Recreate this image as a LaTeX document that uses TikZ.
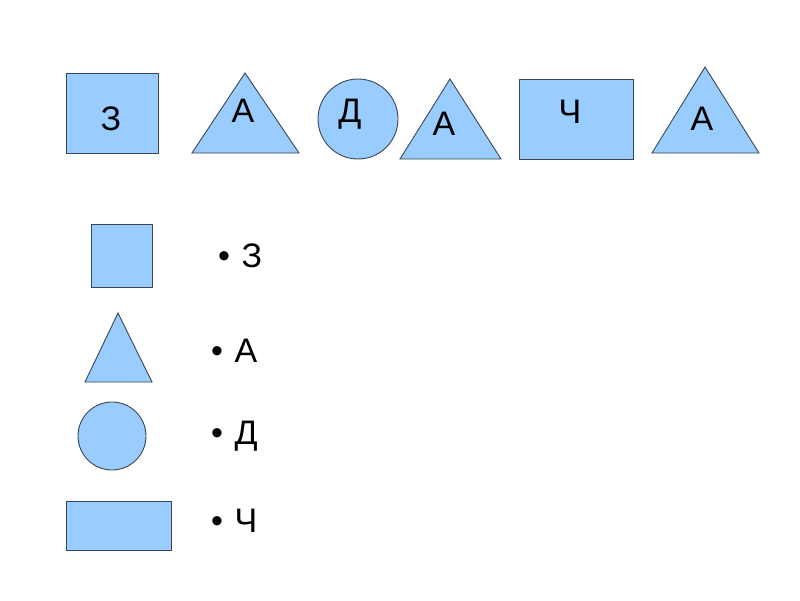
\documentclass[tikz,border=0pt]{standalone}
\usepackage{fontspec}
\setmainfont{Liberation Sans}
\definecolor{figblue}{HTML}{99CCFF}
\definecolor{figedge}{HTML}{3A4654}

\begin{document}
\begin{tikzpicture}[x=1pt,y=-1pt,
  blueshape/.style={fill=figblue,draw=figedge,line width=0.9pt},
  letter/.style={font=\fontsize{34}{36}\selectfont,inner sep=0pt,anchor=base},
  keyitem/.style={letter,anchor=base west}]
\useasboundingbox (0,0) rectangle (800,600);
% top row: the word
\draw[blueshape] (66,73) rectangle (158,153);
\node[letter] (z1) at (111,130) {З};
\draw[blueshape] (245,73)--(299,153)--(192,153)--cycle;
\node[letter] (a1) at (243,122) {А};
\draw[blueshape] (358,119) circle(40);
\node[letter] (d1) at (350,122) {Д};
\draw[blueshape] (450,79)--(501,159)--(400,159)--cycle;
\node[letter] (a2) at (444,135) {А};
\draw[blueshape] (519,79) rectangle (633,159);
\node[letter] (ch1) at (570,123) {Ч};
\draw[blueshape] (705,67)--(759,153)--(652,153)--cycle;
\node[letter] (a3) at (702,130) {А};
% bottom: the key
\draw[blueshape] (91,224) rectangle (152,287);
\node[keyitem] (kz) at (218,267) {• \kern2pt З};
\draw[blueshape] (118,313)--(152,382)--(85,382)--cycle;
\node[keyitem] (ka) at (211,362) {• \kern2pt А};
\draw[blueshape] (112,436) circle(34);
\node[keyitem] (kd) at (211,444) {• \kern2pt Д};
\draw[blueshape] (66,501) rectangle (171,550);
\node[keyitem] (kch) at (211,532) {• \kern2pt Ч};
\end{tikzpicture}
\end{document}
